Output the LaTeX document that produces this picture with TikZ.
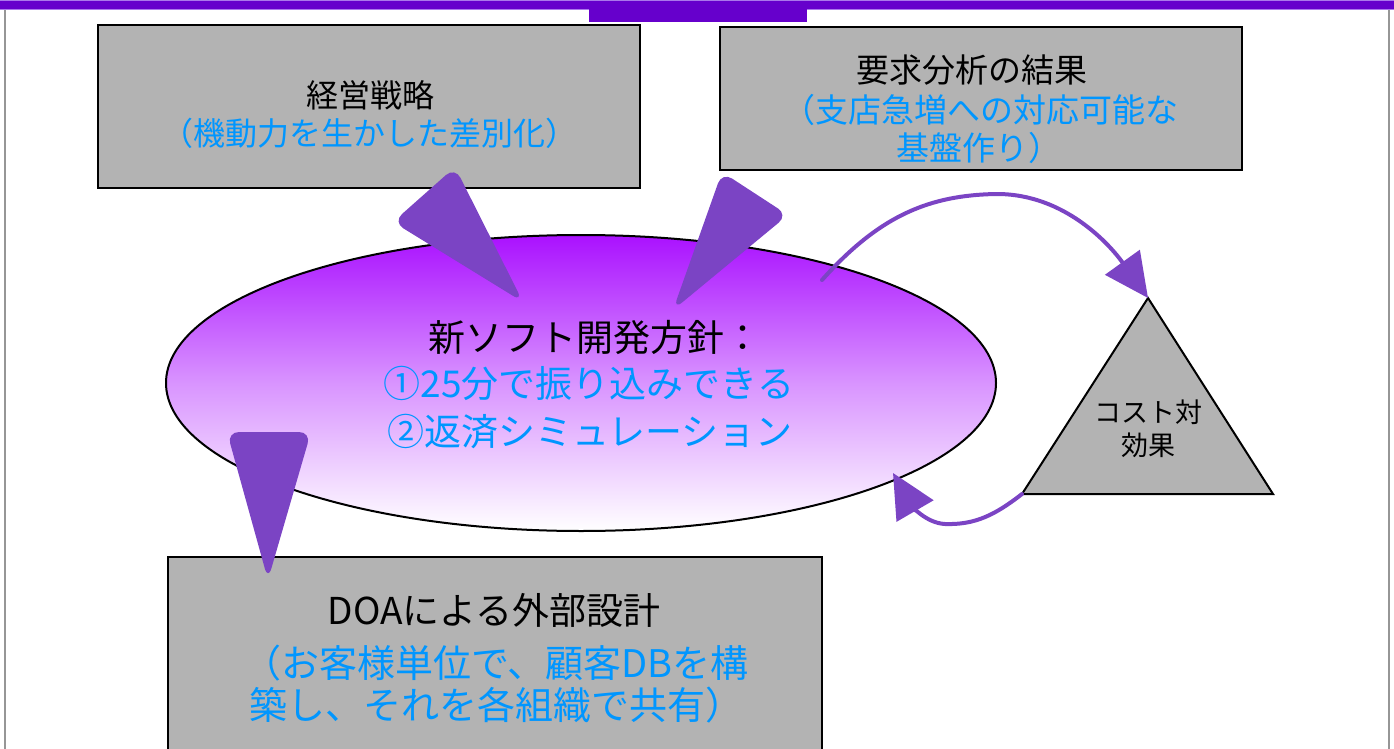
\documentclass[tikz,border=0pt]{standalone}
\usepackage{fontspec}
\setmainfont{Noto Sans CJK JP}
\usetikzlibrary{arrows.meta,shapes.geometric}
\definecolor{band}{RGB}{102,0,204}
\definecolor{bandl}{RGB}{170,120,235}
\definecolor{boxg}{RGB}{179,179,179}
\definecolor{arrp}{RGB}{123,68,196}
\definecolor{txtb}{RGB}{0,150,255}
\definecolor{ellt}{RGB}{170,17,255}
\definecolor{frameg}{RGB}{150,150,150}
\tikzset{
  box/.style={draw=black, line width=2.5pt, fill=boxg},
  lbl/.style={inner sep=0pt, anchor=center},
  blk/.style={lbl, text=black},
  blu/.style={lbl, text=txtb},
  fat/.style={fill=arrp, rounded corners=12pt},
  curv/.style={draw=arrp, line width=4pt, -{Triangle[length=44pt,width=42pt]}},
}
\begin{document}
\begin{tikzpicture}[x=1pt,y=-1pt]
\useasboundingbox (0,0) rectangle (1394,749);
% frame and top band
\draw[frameg, line width=1.2pt] (5,10) -- (5,749);
\draw[frameg, line width=1.2pt] (1389,10) -- (1389,749);
\fill[band] (0,1) rectangle (1394,10);
\draw[bandl, line width=1pt] (0,1) -- (1394,1);
\draw[bandl, line width=1pt] (0,10) -- (1394,10);
\fill[band] (589,9) rectangle (807,22);
% boxes
\draw[box] (98,25) rectangle (640,188);
\draw[box] (720,27) rectangle (1242,170);
\draw[box] (168,557) rectangle (822,770);
% ellipse
\node[ellipse, draw=black, line width=2pt, minimum width=830pt, minimum height=296pt,
      top color=ellt, bottom color=white, middle color=ellt!45] (ell) at (581,383) {};
% triangle
\coordinate (apex) at (1148,298);
\coordinate (bl) at (1022,494);
\coordinate (br) at (1273,494);
\draw[fill=boxg, line width=2pt, line join=miter] (apex) -- (bl) -- (br) -- cycle;
% texts
\node[blk, font=\fontsize{32}{38}\selectfont] (t1a) at (370,95) {経営戦略};
\node[blu, font=\fontsize{32}{38}\selectfont] (t1b) at (369,133) {（機動力を生かした差別化）};
\node[blk, font=\fontsize{33}{39}\selectfont] (t2a) at (972,70) {要求分析の結果};
\node[blu, font=\fontsize{33}{39}\selectfont] (t2b) at (980,110) {（支店急増への対応可能な};
\node[blu, font=\fontsize{33}{39}\selectfont] (t2c) at (979,148) {基盤作り）};
\node[blk, font=\fontsize{37}{44}\selectfont] (t3a) at (595,337) {新ソフト開発方針：};
\node[blu, font=\fontsize{37}{44}\selectfont] (t3b) at (589,383) {①25分で振り込みできる};
\node[blu, font=\fontsize{37}{44}\selectfont] (t3c) at (590,432) {②返済シミュレーション};
\node[blk, font=\fontsize{27}{32}\selectfont] (t4a) at (1148,412) {コスト対};
\node[blk, font=\fontsize{27}{32}\selectfont] (t4b) at (1148,445) {効果};
\node[blk, font=\fontsize{37}{44}\selectfont] (t5a) at (494,610) {DOAによる外部設計};
\node[blu, font=\fontsize{38}{44}\selectfont] (t5b) at (496,663) {（お客様単位で、顧客DBを構};
\node[blu, font=\fontsize{38}{44}\selectfont] (t5c) at (496,705) {築し、それを各組織で共有）};
% fat arrows
\fill[fat] (424,194.5) -- (393,222) -- (523,302) -- (455,167) -- cycle;
\fill[fat] (755,193.5) -- (788,215) -- (673,310) -- (722,172) -- cycle;
\fill[fat] (269,432) -- (311,432) -- (268,580) -- (227,432) -- cycle;
% curved arrows
\coordinate (a0) at (822,280);
\coordinate (b0) at (bl);
\coordinate (btip) at (893,473);
\draw[curv, line cap=round] (a0) .. controls (880,215) and (930,195) .. (997,194)
   .. controls (1065,194) and (1110,245) .. (apex);
\draw[curv, line cap=round] (b0) .. controls (995,515) and (975,525) .. (945,524)
   .. controls (925,523) and (911,504) .. (btip);
\end{tikzpicture}
\end{document}
